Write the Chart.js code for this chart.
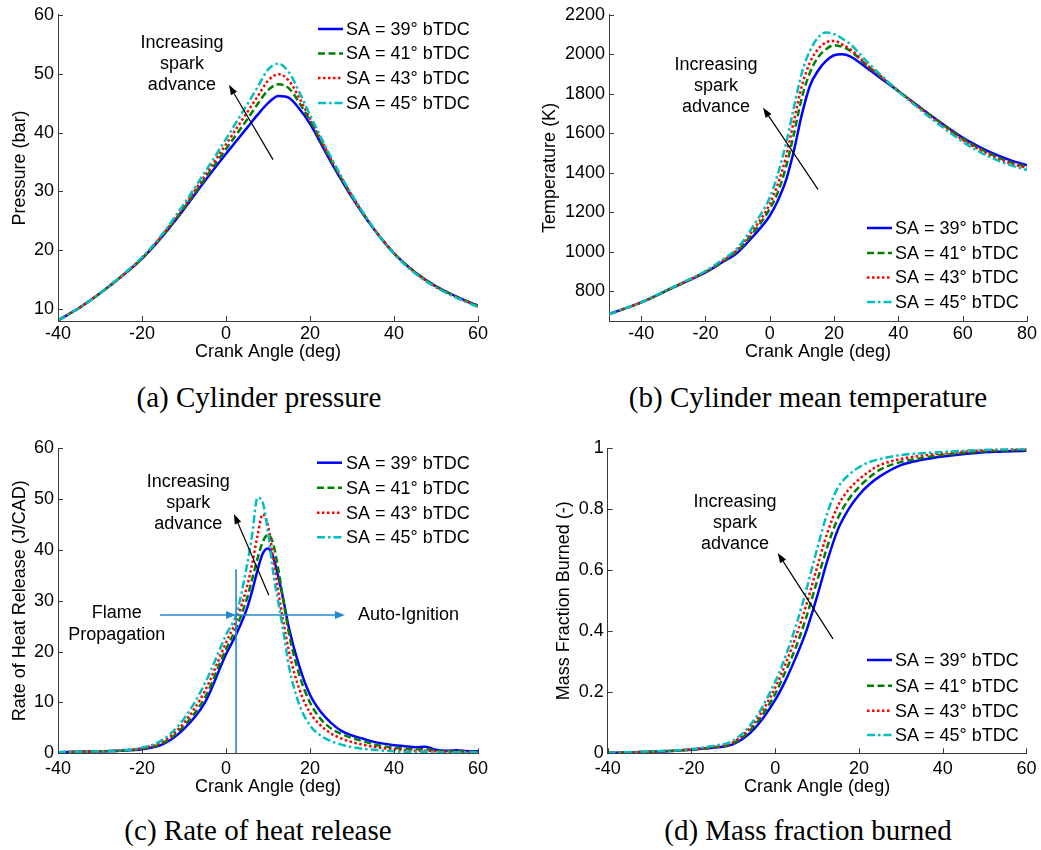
<!DOCTYPE html>
<html><head><meta charset="utf-8">
<script src="https://cdn.jsdelivr.net/npm/chart.js@4.4.1/dist/chart.umd.min.js"></script>
<style>
body{margin:0;background:#fff;width:1041px;height:850px;position:relative;overflow:hidden;}
canvas{position:absolute;}
.cap{position:absolute;font-family:"Liberation Serif","Times New Roman",serif;font-size:29px;color:#000;white-space:nowrap;transform:translate(-50%,-50%);line-height:1;}
</style></head><body>
<canvas id="ca" style="left:0;top:0" width="520" height="370"></canvas>
<canvas id="cb" style="left:520px;top:0" width="521" height="370"></canvas>
<canvas id="cc" style="left:0;top:420px" width="520" height="380"></canvas>
<canvas id="cd" style="left:520px;top:420px" width="521" height="380"></canvas>
<div class="cap" style="left:259px;top:397px">(a) Cylinder pressure</div>
<div class="cap" style="left:808px;top:397px">(b) Cylinder mean temperature</div>
<div class="cap" style="left:258px;top:830px">(c) Rate of heat release</div>
<div class="cap" style="left:808px;top:830px">(d) Mass fraction burned</div>
<script>
// ---------------- data ----------------
const seriesLabels = ['SA = 39° bTDC', 'SA = 41° bTDC', 'SA = 43° bTDC', 'SA = 45° bTDC'];

// (a) Cylinder pressure (bar)
const angleA = [-40,-35,-30,-25,-20,-15,-10,-5,0,2.5,5,7.5,10,12.5,15,17.5,20,25,30,35,40,45,50,55,60];
const pressure39 = [8.1,10.2,12.7,15.5,18.6,22.5,27.0,31.8,36.4,38.6,40.8,43.0,45.0,46.2,45.9,44.0,41.5,35.0,29.0,23.8,19.5,16.3,13.9,12.1,10.6];
const pressure41 = [8.1,10.2,12.7,15.5,18.6,22.6,27.2,32.2,37.2,39.7,42.2,44.8,47.2,48.2,47.5,45.0,42.0,35.3,29.2,23.9,19.5,16.3,13.9,12.1,10.6];
const pressure43 = [8.1,10.2,12.7,15.5,18.7,22.7,27.5,32.7,38.0,40.7,43.4,46.1,48.8,49.9,48.8,45.8,42.4,35.5,29.3,23.9,19.5,16.2,13.8,12.0,10.5];
const pressure45 = [8.1,10.2,12.7,15.6,18.8,22.9,27.9,33.3,38.9,41.8,44.7,47.7,50.7,51.7,50.2,46.8,43.0,35.8,29.4,23.9,19.4,16.1,13.7,11.9,10.4];

// (b) Cylinder mean temperature (K)
const angleB = [-50,-40,-30,-20,-15,-10,-5,0,2.5,5,7.5,10,12.5,15,17.5,20,22.5,25,30,35,40,45,50,55,60,65,70,75,80];
const temp39 = [685,744,820,896,945,997,1082,1183,1259,1360,1512,1697,1841,1917,1967,1995,2000,1990,1933,1873,1813,1752,1692,1633,1578,1533,1494,1463,1438];
const temp41 = [685,744,820,898,948,1005,1100,1217,1301,1427,1596,1782,1908,1984,2026,2046,2038,2018,1947,1880,1815,1752,1690,1630,1573,1526,1486,1453,1430];
const temp43 = [685,744,821,900,952,1012,1115,1242,1343,1478,1663,1841,1959,2026,2060,2068,2050,2026,1950,1882,1815,1750,1686,1625,1567,1519,1479,1447,1424];
const temp45 = [685,745,823,903,957,1020,1135,1275,1394,1545,1731,1908,2018,2085,2111,2102,2080,2052,1967,1888,1812,1744,1678,1616,1557,1508,1469,1438,1414];

// (c) Rate of heat release (J/CAD)
const angleC = [-40,-35,-30,-25,-20,-15,-10,-5,0,2.5,5,6.25,7.5,8.75,10,11.25,12.5,13.75,15,17.5,20,22.5,25,27.5,30,32.5,35,37.5,40,42.5,45,47.5,50,52.5,55,57.5,60];
const hrr39 = [0.2,0.3,0.4,0.5,0.8,1.8,4.8,10.0,19.5,23.5,28.5,32.0,36.0,39.3,40.3,38.6,34.6,29.8,24.6,17.0,11.5,8.2,6.0,4.4,3.5,2.9,2.3,1.9,1.6,1.4,1.2,1.3,0.7,0.5,0.6,0.4,0.4];
const hrr41 = [0.2,0.3,0.4,0.5,0.9,2.0,5.4,11.0,20.5,24.8,30.5,34.3,38.3,41.6,43.0,41.2,36.0,29.6,23.5,15.3,10.0,6.8,4.9,3.8,3.0,2.4,1.8,1.4,1.1,0.9,0.8,0.8,0.5,0.4,0.4,0.3,0.3];
const hrr43 = [0.2,0.3,0.4,0.6,1.0,2.3,6.0,12.3,21.8,26.2,32.8,37.3,42.8,47.0,44.8,38.5,31.5,25.5,20.0,12.5,8.0,5.5,3.9,2.9,2.2,1.7,1.3,1.0,0.8,0.6,0.5,0.5,0.4,0.3,0.3,0.3,0.2];
const hrr45 = [0.2,0.3,0.4,0.6,1.1,2.7,6.8,13.8,23.3,27.5,37.0,43.2,50.3,49.3,43.5,35.5,29.5,23.5,17.0,9.5,5.5,3.5,2.4,1.7,1.2,0.9,0.7,0.5,0.4,0.3,0.3,0.3,0.2,0.2,0.2,0.2,0.2];

// (d) Mass fraction burned (-)
const angleD = [-40,-30,-20,-15,-10,-5,0,2.5,5,7.5,10,12.5,15,17.5,20,22.5,25,30,35,40,50,60];
const mfb39 = [0.002,0.005,0.012,0.018,0.030,0.080,0.175,0.240,0.317,0.404,0.514,0.634,0.735,0.800,0.847,0.882,0.908,0.945,0.962,0.973,0.987,0.992];
const mfb41 = [0.002,0.005,0.012,0.019,0.033,0.090,0.195,0.270,0.350,0.450,0.565,0.680,0.772,0.832,0.873,0.905,0.930,0.955,0.968,0.978,0.990,0.995];
const mfb43 = [0.002,0.005,0.013,0.021,0.037,0.100,0.215,0.295,0.385,0.490,0.610,0.725,0.812,0.864,0.898,0.925,0.945,0.965,0.976,0.983,0.993,0.997];
const mfb45 = [0.002,0.006,0.014,0.024,0.042,0.110,0.235,0.320,0.420,0.540,0.670,0.790,0.872,0.912,0.938,0.955,0.965,0.978,0.984,0.988,0.995,0.998];

// tick labels
const xTicksA = [-40,-20,0,20,40,60];
const yTicksA = [10,20,30,40,50,60];
const xTicksB = [-40,-20,0,20,40,60,80];
const yTicksB = [800,1000,1200,1400,1600,1800,2000,2200];
const xTicksC = [-40,-20,0,20,40,60];
const yTicksC = [0,10,20,30,40,50,60];
const xTicksD = [-40,-20,0,20,40,60];
const yTicksD = [0,0.2,0.4,0.6,0.8,1];

// ---------------- styling ----------------
const FONT = '"Liberation Sans", Arial, Helvetica, sans-serif';
Chart.defaults.font.family = FONT;
Chart.defaults.font.size = 18;
Chart.defaults.color = '#000';
const AXIS_COLOR = '#3a3a3a';
const seriesStyle = [
  {color:'#0000ff', dash:[]},
  {color:'#008000', dash:[7,3.5]},
  {color:'#ff0000', dash:[2.5,2.5]},
  {color:'#00bfbf', dash:[8,3,2.5,3]}
];
const NOTE_BLUE = '#2389cd';

function arrow(ctx, x1, y1, x2, y2, color, lw, hl, hw) {
  const ang = Math.atan2(y2 - y1, x2 - x1);
  const bx = x2 - hl * Math.cos(ang), by = y2 - hl * Math.sin(ang);
  ctx.strokeStyle = color; ctx.fillStyle = color; ctx.lineWidth = lw; ctx.setLineDash([]);
  ctx.beginPath(); ctx.moveTo(x1, y1); ctx.lineTo(bx, by); ctx.stroke();
  ctx.beginPath();
  ctx.moveTo(x2, y2);
  ctx.lineTo(bx + hw / 2 * Math.sin(ang), by - hw / 2 * Math.cos(ang));
  ctx.lineTo(bx - hw / 2 * Math.sin(ang), by + hw / 2 * Math.cos(ang));
  ctx.closePath(); ctx.fill();
}

const decor = {
  id: 'decor',
  afterDraw(chart, args, o) {
    const ctx = chart.ctx, xs = chart.scales.x, ys = chart.scales.y, a = chart.chartArea;
    const X = v => xs.getPixelForValue(v), Y = v => ys.getPixelForValue(v);
    ctx.save();
    // inward tick marks
    ctx.strokeStyle = AXIS_COLOR; ctx.lineWidth = 1; ctx.setLineDash([]);
    xs.ticks.forEach(t => { const p = Math.round(X(t.value)) + 0.5; ctx.beginPath(); ctx.moveTo(p, a.bottom); ctx.lineTo(p, a.bottom - 5); ctx.stroke(); });
    ys.ticks.forEach(t => { const p = Math.round(Y(t.value)) + 0.5; ctx.beginPath(); ctx.moveTo(a.left, p); ctx.lineTo(a.left + 5, p); ctx.stroke(); });
    // legend
    const lg = o.legend;
    ctx.font = '18px ' + FONT; ctx.textBaseline = 'middle'; ctx.textAlign = 'left';
    chart.data.datasets.forEach((ds, i) => {
      const y = lg.rows[i];
      ctx.strokeStyle = ds.borderColor; ctx.lineWidth = ds.borderWidth; ctx.setLineDash(ds.borderDash || []);
      ctx.beginPath(); ctx.moveTo(lg.x0, y); ctx.lineTo(lg.x1, y); ctx.stroke();
      ctx.setLineDash([]);
      ctx.fillStyle = '#000'; ctx.fillText(ds.label, lg.tx, y + 1);
    });
    // "Increasing spark advance" note
    const n = o.note;
    ctx.textAlign = 'center'; ctx.fillStyle = '#000';
    ['Increasing', 'spark', 'advance'].forEach((t, i) => ctx.fillText(t, X(n.tx), Y(n.ty) + i * 21));
    arrow(ctx, X(n.from[0]), Y(n.from[1]), X(n.to[0]), Y(n.to[1]), '#000', 1.2, 10, 7);
    // extra (panel c)
    if (o.extra) {
      const e = o.extra;
      ctx.strokeStyle = NOTE_BLUE; ctx.lineWidth = 1.6;
      ctx.beginPath(); ctx.moveTo(X(e.vx), Y(e.vTop)); ctx.lineTo(X(e.vx), Y(e.vBottom)); ctx.stroke();
      arrow(ctx, X(e.h0), Y(e.hy), X(e.vx), Y(e.hy), NOTE_BLUE, 1.6, 10, 8);
      arrow(ctx, X(e.vx), Y(e.hy), X(e.h1), Y(e.hy), NOTE_BLUE, 1.6, 10, 8);
      ctx.fillStyle = '#000'; ctx.textAlign = 'center';
      ctx.fillText('Flame', X(e.fx), Y(e.fy1));
      ctx.fillText('Propagation', X(e.fx), Y(e.fy2));
      ctx.textAlign = 'left';
      ctx.fillText('Auto-Ignition', X(e.ax), Y(e.ay));
    }
    ctx.restore();
  }
};

function makeChart(id, s) {
  const half = 10.8;
  const pl = s.yTitleX - half;
  const axisW = s.area.l - pl;
  const axisH = s.xTitleY + half - s.area.b;
  const pad = { left: pl, top: s.area.t, right: s.W - s.area.r, bottom: s.H - s.area.b - axisH };
  const datasets = s.series.map((vals, i) => ({
    label: seriesLabels[i],
    data: s.angles.map((x, j) => ({ x: x, y: vals[j] })),
    borderColor: seriesStyle[i].color,
    borderDash: seriesStyle[i].dash,
    borderWidth: 2.5,
    pointRadius: 0,
    fill: false,
    cubicInterpolationMode: 'monotone',
    order: 3 - i
  }));
  const fmt = v => String(v);
  return new Chart(document.getElementById(id), {
    type: 'line',
    data: { datasets },
    plugins: [decor],
    options: {
      responsive: false, animation: false,
      layout: { padding: pad },
      plugins: { legend: { display: false }, tooltip: { enabled: false },
        decor: { legend: s.legend, note: s.note, extra: s.extra } },
      scales: {
        x: {
          type: 'linear', min: s.xMin, max: s.xMax,
          afterBuildTicks: sc => { sc.ticks = s.xTicks.map(v => ({ value: v })); },
          afterFit: sc => { sc.height = axisH; },
          ticks: { padding: s.xTickPad, maxRotation: 0, autoSkip: false, callback: fmt, color: '#000' },
          grid: { display: false, drawTicks: false },
          border: { display: true, color: AXIS_COLOR, width: 1 },
          title: { display: true, text: 'Crank Angle (deg)', padding: 0, color: '#000' }
        },
        y: {
          type: 'linear', min: s.yMin, max: s.yMax,
          afterBuildTicks: sc => { sc.ticks = s.yTicks.map(v => ({ value: v })); },
          afterFit: sc => { sc.width = axisW; },
          ticks: { padding: 4, autoSkip: false, callback: fmt, color: '#000' },
          grid: { display: false, drawTicks: false },
          border: { display: true, color: AXIS_COLOR, width: 1 },
          title: { display: true, text: s.yTitle, padding: 0, color: '#000' }
        }
      }
    }
  });
}

makeChart('ca', {
  angles: angleA, series: [pressure39, pressure41, pressure43, pressure45],
  xMin: -40, xMax: 60, yMin: 8, yMax: 60, xTicks: xTicksA, yTicks: yTicksA,
  yTitle: 'Pressure (bar)', W: 520, H: 370,
  area: { l: 58, t: 14, r: 478, b: 321 }, xTitleY: 352.4, yTitleX: 20.5, xTickPad: 2,
  legend: { x0: 318, x1: 343, tx: 346, rows: [29, 53.5, 78, 103] },
  note: { tx: -10.5, ty: 55.2, from: [11.2, 35.4], to: [0.7, 48.1] }
});
makeChart('cb', {
  angles: angleB, series: [temp39, temp41, temp43, temp45],
  xMin: -50, xMax: 80, yMin: 650, yMax: 2200, xTicks: xTicksB, yTicks: yTicksB,
  yTitle: 'Temperature (K)', W: 521, H: 370,
  area: { l: 89, t: 14, r: 507, b: 321 }, xTitleY: 352.3, yTitleX: 30.5, xTickPad: 2,
  legend: { x0: 347, x1: 372, tx: 375, rows: [228, 253, 277.5, 302] },
  note: { tx: -16.7, ty: 1947, from: [15, 1316], to: [-2.1, 1730] }
});
makeChart('cc', {
  angles: angleC, series: [hrr39, hrr41, hrr43, hrr45],
  xMin: -40, xMax: 60, yMin: 0, yMax: 60, xTicks: xTicksC, yTicks: yTicksC,
  yTitle: 'Rate of Heat Release (J/CAD)', W: 520, H: 380,
  area: { l: 58, t: 28.3, r: 478, b: 333.3 }, xTitleY: 366.7, yTitleX: 20.5, xTickPad: 5,
  legend: { x0: 317, x1: 342, tx: 346, rows: [42.7, 67.7, 92.7, 117.3] },
  note: { tx: -9.0, ty: 53.4, from: [10.2, 31.1], to: [1.9, 47.1] },
  extra: { vx: 2.4, vTop: 36.2, vBottom: 0, hy: 27.2, h0: -15.7, h1: 28.3,
           fx: -26, fy1: 27.6, fy2: 23.3, ax: 31.4, ay: 27.2 }
});
makeChart('cd', {
  angles: angleD, series: [mfb39, mfb41, mfb43, mfb45],
  xMin: -40, xMax: 60, yMin: 0, yMax: 1, xTicks: xTicksD, yTicks: yTicksD,
  yTitle: 'Mass Fraction Burned (-)', W: 521, H: 380,
  area: { l: 87.7, t: 28.3, r: 506.7, b: 333.3 }, xTitleY: 366.7, yTitleX: 44.5, xTickPad: 4.5,
  legend: { x0: 347, x1: 372, tx: 375, rows: [240, 265.7, 290.7, 315] },
  note: { tx: -9.6, ty: 0.825, from: [13.8, 0.375], to: [0.6, 0.657] }
});
</script>
</body></html>
